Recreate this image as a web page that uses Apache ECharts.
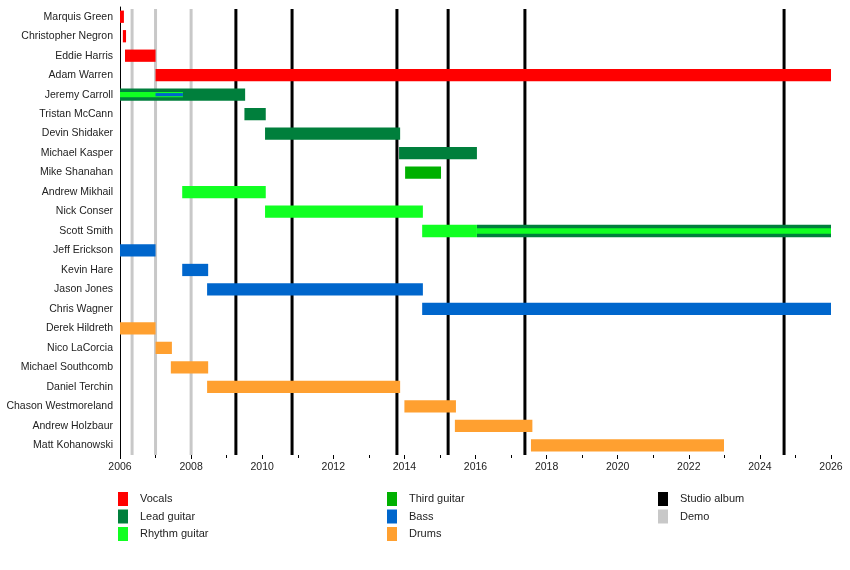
<!DOCTYPE html>
<html>
<head>
<meta charset="utf-8">
<script src="https://cdn.jsdelivr.net/npm/echarts@6/dist/echarts.min.js"></script>
<style>
  html, body { margin: 0; padding: 0; background: #fff; }
  #chart { width: 850px; height: 570px; }
</style>
</head>
<body>
<div id="chart"></div>
<script>
// Band members, top to bottom
const members = [
  'Marquis Green', 'Christopher Negron', 'Eddie Harris', 'Adam Warren',
  'Jeremy Carroll', 'Tristan McCann', 'Devin Shidaker', 'Michael Kasper',
  'Mike Shanahan', 'Andrew Mikhail', 'Nick Conser', 'Scott Smith',
  'Jeff Erickson', 'Kevin Hare', 'Jason Jones', 'Chris Wagner',
  'Derek Hildreth', 'Nico LaCorcia', 'Michael Southcomb', 'Daniel Terchin',
  'Chason Westmoreland', 'Andrew Holzbaur', 'Matt Kohanowski'
]

// [member, start, end]
const vocals = [
  ['Marquis Green', 2006.0, 2006.11],
  ['Christopher Negron', 2006.08, 2006.17],
  ['Eddie Harris', 2006.14, 2007.0],
  ['Adam Warren', 2007.0, 2026.0]
]
const leadGuitar = [
  ['Jeremy Carroll', 2006.0, 2009.52],
  ['Tristan McCann', 2009.5, 2010.1],
  ['Devin Shidaker', 2010.08, 2013.88],
  ['Michael Kasper', 2013.85, 2016.04],
  ['Scott Smith', 2016.04, 2026.0]
]
const rhythmGuitar = [
  ['Andrew Mikhail', 2007.75, 2010.1],
  ['Nick Conser', 2010.08, 2014.52],
  ['Scott Smith', 2014.5, 2016.04]
]
// rhythm guitar played alongside another role
const rhythmGuitarShared = [
  ['Jeremy Carroll', 2006.0, 2007.77],
  ['Scott Smith', 2016.04, 2026.0]
]
const thirdGuitar = [
  ['Mike Shanahan', 2014.02, 2015.03]
]
const bass = [
  ['Jeff Erickson', 2006.0, 2007.0],
  ['Kevin Hare', 2007.75, 2008.48],
  ['Jason Jones', 2008.45, 2014.52],
  ['Chris Wagner', 2014.5, 2026.0]
]
const bassShared = [
  ['Jeremy Carroll', 2007.0, 2007.77]
]
const drums = [
  ['Derek Hildreth', 2006.0, 2007.0],
  ['Nico LaCorcia', 2007.0, 2007.46],
  ['Michael Southcomb', 2007.43, 2008.48],
  ['Daniel Terchin', 2008.45, 2013.88],
  ['Chason Westmoreland', 2014.0, 2015.45],
  ['Andrew Holzbaur', 2015.42, 2017.6],
  ['Matt Kohanowski', 2017.56, 2022.99]
]

// release dates
const studioAlbums = [2009.26, 2010.84, 2013.79, 2015.23, 2017.39, 2024.68]
const demos = [2006.34, 2007.0, 2008.0]

const xTicks = { min: 2006, max: 2026, step: 2 }

const colors = {
  vocals: '#ff0000',
  lead: '#007f3c',
  rhythm: '#11ff22',
  third: '#00b000',
  bass: '#0066cc',
  drums: '#ffa030',
  studio: '#000000',
  demo: '#c8c8c8'
}

const chart = echarts.init(document.getElementById('chart'))

// bar drawn across a member's row, ratio = share of the row height
const barRenderer = ratio => (params, api) => {
  const row = api.value(0)
  const start = api.coord([api.value(1), row])
  const end = api.coord([api.value(2), row])
  const h = api.size([0, 1])[1] * ratio
  return {
    type: 'rect',
    shape: { x: start[0], y: start[1] - h / 2, width: end[0] - start[0], height: h },
    style: { fill: api.visual('color') }
  }
}

// vertical line over the whole plot
const lineRenderer = (params, api) => {
  const x = api.coord([api.value(0), 0])[0]
  const cs = params.coordSys
  return {
    type: 'line',
    shape: { x1: x, y1: cs.y + 2, x2: x, y2: cs.y + cs.height },
    style: { stroke: api.visual('color'), lineWidth: 3 }
  }
}

const toRows = list => list.map(d => [members.indexOf(d[0]), d[1], d[2]])

const barSeries = (name, list, color, ratio) => ({
  name,
  type: 'custom',
  renderItem: barRenderer(ratio),
  itemStyle: { color },
  encode: { x: [1, 2], y: 0 },
  data: toRows(list),
  z: 3
})

const lineSeries = (name, list, color) => ({
  name,
  type: 'custom',
  renderItem: lineRenderer,
  itemStyle: { color },
  encode: { x: 0 },
  data: list.map(v => [v]),
  z: 1
})

const legendBase = {
  orient: 'vertical',
  icon: 'rect',
  padding: 0,
  itemWidth: 10,
  itemHeight: 14,
  itemGap: 3.5,
  selectedMode: false,
  textStyle: { fontSize: 11, color: '#222', fontFamily: 'Liberation Sans', padding: [0, 0, 0, 7] }
}

chart.setOption({
  animation: false,
  textStyle: { fontFamily: 'Liberation Sans' },
  grid: { left: 120, right: 19, top: 7, bottom: 115 },
  legend: [
    { ...legendBase, left: 118, top: 492, data: ['Vocals', 'Lead guitar', 'Rhythm guitar'] },
    { ...legendBase, left: 387, top: 492, data: ['Third guitar', 'Bass', 'Drums'] },
    { ...legendBase, left: 658, top: 492, data: ['Studio album', 'Demo'] }
  ],
  xAxis: {
    type: 'value',
    min: xTicks.min,
    max: xTicks.max,
    interval: xTicks.step,
    axisLine: { lineStyle: { color: '#000', width: 1 } },
    axisTick: { show: true, length: 4, lineStyle: { color: '#000' } },
    minorTick: { show: true, splitNumber: 2, length: 3, lineStyle: { color: '#000' } },
    splitLine: { show: false },
    axisLabel: { color: '#222', fontSize: 10.5, margin: 7, formatter: v => String(v) }
  },
  yAxis: {
    type: 'category',
    inverse: true,
    data: members,
    axisLine: { show: true, lineStyle: { color: '#000', width: 1 } },
    axisTick: { show: false },
    splitLine: { show: false },
    axisLabel: { color: '#222', fontSize: 10.5, margin: 7 }
  },
  series: [
    lineSeries('Studio album', studioAlbums, colors.studio),
    lineSeries('Demo', demos, colors.demo),
    barSeries('Vocals', vocals, colors.vocals, 0.63),
    barSeries('Lead guitar', leadGuitar, colors.lead, 0.63),
    barSeries('Rhythm guitar', rhythmGuitar, colors.rhythm, 0.63),
    barSeries('Rhythm guitar', rhythmGuitarShared, colors.rhythm, 0.27),
    barSeries('Third guitar', thirdGuitar, colors.third, 0.63),
    barSeries('Bass', bass, colors.bass, 0.63),
    barSeries('Bass', bassShared, colors.bass, 0.16),
    barSeries('Drums', drums, colors.drums, 0.63)
  ]
})
</script>
</body>
</html>
